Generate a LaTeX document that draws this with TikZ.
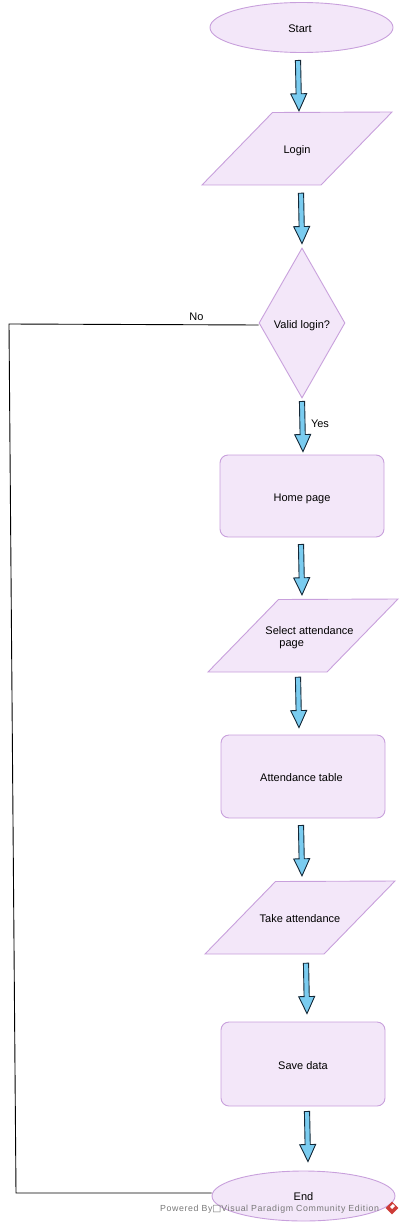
\documentclass[tikz,border=0pt]{standalone}
\usepackage{fontspec}
\setmainfont{Liberation Sans}
\newfontfamily\footfont[LetterSpace=6.8]{Liberation Sans}
\newfontfamily\symfont{DejaVu Sans}
\usetikzlibrary{shapes.geometric,calc}
\definecolor{shapefill}{RGB}{243,231,249}
\definecolor{shapeline}{RGB}{200,160,220}
\definecolor{arrowfill}{RGB}{122,204,240}
\definecolor{arrowline}{RGB}{20,40,55}
\definecolor{footgrey}{RGB}{120,120,120}
\definecolor{logored}{RGB}{205,60,55}
\tikzset{
  shapebase/.style={draw=shapeline,fill=shapefill,line width=0.9pt,inner sep=0pt,font=\fontsize{11}{12}\selectfont},
  oval/.style={shapebase,ellipse,minimum width=183pt,minimum height=50pt},
  parashape/.style={draw=shapeline,fill=shapefill,line width=0.9pt,line join=miter},
  paratext/.style={inner sep=0pt,minimum width=119pt,minimum height=72pt,font=\fontsize{11}{12}\selectfont},
  decision/.style={shapebase,diamond,aspect=0.573,minimum width=86pt,minimum height=150pt},
  card/.style={shapebase,rectangle,rounded corners=8pt,minimum width=164pt},
  blockarrow/.style={draw=arrowline,fill=arrowfill,line width=0.9pt,line join=miter},
  flowline/.style={draw=black,line width=0.9pt},
  lbl/.style={inner sep=0pt,font=\fontsize{11}{12}\selectfont}
}
\newcommand{\dropped}[2]{\raisebox{-#1pt}[0pt][0pt]{#2}}
% #1 name, #2 cx, #3 cy, #4 text
\newcommand{\parabox}[4]{%
  \draw[parashape] (#2-95,#3+36) -- (#2-24.5,#3-36.5) -- (#2+95,#3-37) -- (#2+24,#3+36) -- cycle;
  \node[paratext,align=left] (#1) at (#2,#3) {#4};
}
\newcommand{\blockarrow}[2]{%
  \coordinate (H) at ($(#2)!17pt!(#1)$);
  \draw[blockarrow] ($(#1)!2.6pt!90:(#2)$) -- ($(H)!2.6pt!-90:(#1)$) -- ($(H)!8pt!-90:(#1)$) -- (#2)
    -- ($(H)!8pt!90:(#1)$) -- ($(H)!2.6pt!90:(#1)$) -- ($(#1)!2.6pt!-90:(#2)$) -- cycle;
}
\begin{document}
\begin{tikzpicture}[x=1pt,y=-1pt]
\useasboundingbox (0,0) rectangle (404,1225);
\node[oval] (start) at (301.5,27.5) {\dropped{5}{\hspace{-3pt}Start}};
\parabox{login}{297}{149}{\dropped{5}{Login}}
\node[decision] (valid) at (302,323) {\dropped{5}{Valid login?}};
\node[card,minimum height=82pt] (home) at (302,496) {\dropped{5}{Home page}};
\parabox{select}{303}{636}{\hspace{13pt}\raisebox{2pt}[0pt][0pt]{\begin{tabular}[t]{@{}l@{}}Select attendance\\\hspace{14pt}page\end{tabular}}}
\node[card,minimum height=83pt] (table) at (303,776.5) {\dropped{4.5}{\hspace{-3pt}Attendance table}};
\parabox{take}{300}{918}{\dropped{4}{Take attendance}}
\node[card,minimum height=84pt] (save) at (303,1064) {\dropped{5}{Save data}};
\node[oval] (stop) at (303.5,1196) {\dropped{4}{End}};
% block connectors
\coordinate (a1s) at ([shift={(-3.5,7.5)}]start.south);
\coordinate (a1e) at ([shift={(2,-2)}]login.north);
\coordinate (a2s) at ([shift={(4,8)}]login.south);
\coordinate (a2e) at ([shift={(0,-4)}]valid.north);
\coordinate (a3s) at ([shift={(0,3)}]valid.south);
\coordinate (a3e) at ([shift={(1,-3)}]home.north);
\coordinate (a4s) at ([shift={(-1,7)}]home.south);
\coordinate (a4e) at ([shift={(-1,-5)}]select.north);
\coordinate (a5s) at ([shift={(-5,5)}]select.south);
\coordinate (a5e) at ([shift={(-4,-7)}]table.north);
\coordinate (a6s) at ([shift={(-2,7)}]table.south);
\coordinate (a6e) at ([shift={(2,-6)}]take.north);
\coordinate (a7s) at ([shift={(6,9)}]take.south);
\coordinate (a7e) at ([shift={(4,-8)}]save.north);
\coordinate (a8s) at ([shift={(4,5)}]save.south);
\coordinate (a8e) at ([shift={(4.5,-9)}]stop.north);
\blockarrow{a1s}{a1e}
\blockarrow{a2s}{a2e}
\blockarrow{a3s}{a3e}
\blockarrow{a4s}{a4e}
\blockarrow{a5s}{a5e}
\blockarrow{a6s}{a6e}
\blockarrow{a7s}{a7e}
\blockarrow{a8s}{a8e}
% No branch
\coordinate (c1) at (9,324);
\coordinate (c2) at (16,1193);
\draw[flowline] ([shift={(0,2)}]valid.west) -- (c1) -- (c2) -- (stop.west |- c2);
\node[lbl] (nolabel) at (196.5,317) {No};
\node[lbl] (yeslabel) at (320,424) {Yes};
% footer
\node[inner sep=0pt,text=footgrey,anchor=west,font=\fontsize{8.8}{10}\selectfont] (footer) at (160,1209.5) {{\footfont Powered By}{\symfont\fontsize{9.5}{10}\selectfont □}{\footfont Visual Paradigm Community Edition}};
\node[diamond,fill=logored,minimum width=13pt,minimum height=13pt,inner sep=0pt,aspect=1] (logo) at (392,1208) {};
\node[rectangle,fill=white,rotate=45,minimum width=4pt,minimum height=3pt,inner sep=0pt] (logomark) at (392.5,1206.5) {};
\end{tikzpicture}
\end{document}
